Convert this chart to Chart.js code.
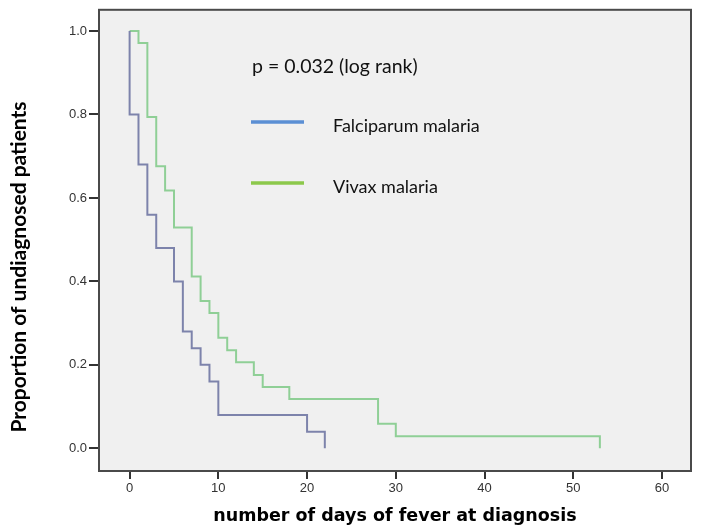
<!DOCTYPE html>
<html>
<head>
<meta charset="utf-8">
<script src="https://cdn.jsdelivr.net/npm/chart.js@4/dist/chart.umd.min.js"></script>
<style>
  html, body { margin: 0; padding: 0; background: #ffffff; }
  #wrap { position: relative; width: 704px; height: 530px; }
</style>
</head>
<body>
<div id="wrap"><canvas id="c" width="704" height="530"></canvas></div>
<script>
// Kaplan-Meier data (days, proportion undiagnosed)
const falciparumDays = [0, 0, 1, 2, 3, 5, 6, 7, 8, 9, 10, 20, 22];
const falciparumProp = [1.0, 0.80, 0.68, 0.56, 0.48, 0.40, 0.28, 0.24, 0.20, 0.16, 0.08, 0.04, 0.0];
const vivaxDays = [0, 1, 2, 3, 4, 5, 7, 8, 9, 10, 11, 12, 14, 15, 18, 28, 30, 53];
const vivaxProp = [1.0, 0.971, 0.794, 0.676, 0.618, 0.529, 0.412, 0.353, 0.324, 0.265, 0.235, 0.206, 0.176, 0.147, 0.118, 0.059, 0.029, 0.0];
const xTicks = [0, 10, 20, 30, 40, 50, 60];
const yTicks = [0.0, 0.2, 0.4, 0.6, 0.8, 1.0];
const seriesNames = ['Falciparum malaria', 'Vivax malaria'];
const annotationText = 'p = 0.032 (log rank)';
const xTitle = 'number of days of fever at diagnosis';
const yTitle = 'Proportion of undiagnosed patients';

const toPoints = (xs, ys) => xs.map((x, i) => ({ x: x, y: ys[i] }));

const decorPlugin = {
  id: 'decor',
  beforeDatasetsDraw(chart) {
    const { ctx, chartArea: a } = chart;
    ctx.save();
    ctx.fillStyle = '#f0f0f0';
    ctx.fillRect(a.left, a.top, a.right - a.left, a.bottom - a.top);
    ctx.restore();
  },
  afterDraw(chart) {
    const { ctx, chartArea: a } = chart;
    ctx.save();
    // frame
    ctx.strokeStyle = '#4a4a4a';
    ctx.lineWidth = 2;
    ctx.strokeRect(a.left, a.top, a.right - a.left, a.bottom - a.top);
    // annotation + legend
    ctx.fillStyle = '#111';
    ctx.textBaseline = 'middle';
    ctx.textAlign = 'left';
    ctx.font = '19.5px Lato, "Open Sans", sans-serif';
    ctx.fillText(annotationText, 252, 67);
    ctx.font = '18px Lato, "Open Sans", sans-serif';
    const legendCols = ['#5b8fd4', '#8cc84b'];
    const legendY = [122, 183];
    for (let i = 0; i < 2; i++) {
      ctx.strokeStyle = legendCols[i];
      ctx.lineWidth = 3.5;
      ctx.beginPath();
      ctx.moveTo(251, legendY[i]);
      ctx.lineTo(304, legendY[i]);
      ctx.stroke();
      ctx.fillText(seriesNames[i], 333, legendY[i] + 4);
    }
    // axis titles
    ctx.fillStyle = '#000';
    ctx.textAlign = 'center';
    ctx.font = 'bold 17.5px "DejaVu Sans", Verdana, sans-serif';
    ctx.fillText(xTitle, 395, 516);
    ctx.translate(19, 267);
    ctx.rotate(-Math.PI / 2);
    ctx.font = 'bold 21px Lato, "Open Sans", sans-serif';
    ctx.fillText(yTitle, 0, 0);
    ctx.restore();
  }
};

new Chart(document.getElementById('c'), {
  type: 'scatter',
  data: {
    datasets: [
      {
        label: seriesNames[0],
        data: toPoints(falciparumDays, falciparumProp),
        showLine: true,
        stepped: 'before',
        borderColor: '#7d83ab',
        borderWidth: 2,
        pointRadius: 0,
        fill: false
      },
      {
        label: seriesNames[1],
        data: toPoints(vivaxDays, vivaxProp),
        showLine: true,
        stepped: 'before',
        borderColor: '#8fcf96',
        borderWidth: 2,
        pointRadius: 0,
        fill: false
      }
    ]
  },
  options: {
    responsive: false,
    animation: false,
    layout: { padding: { left: 0, right: 13, top: 3, bottom: 0 } },
    plugins: { legend: { display: false }, tooltip: { enabled: false } },
    scales: {
      x: {
        type: 'linear',
        min: -3.45,
        max: 63.27,
        afterBuildTicks: s => { s.ticks = xTicks.map(v => ({ value: v })); },
        afterFit: s => { s.height = 59; },
        grid: { drawOnChartArea: false, tickLength: 8, color: '#333', lineWidth: 2 },
        border: { display: false },
        ticks: { padding: 2, color: '#333', font: { family: '"Liberation Sans", Arial, sans-serif', size: 13 }, callback: v => String(v) }
      },
      y: {
        type: 'linear',
        min: -0.0543,
        max: 1.0508,
        afterBuildTicks: s => { s.ticks = yTicks.map(v => ({ value: v })); },
        afterFit: s => { s.width = 99; },
        grid: { drawOnChartArea: false, tickLength: 10, color: '#333', lineWidth: 2 },
        border: { display: false },
        ticks: { padding: 2, color: '#333', font: { family: '"Liberation Sans", Arial, sans-serif', size: 13 }, callback: v => v.toFixed(1) }
      }
    }
  },
  plugins: [decorPlugin]
});
</script>
</body>
</html>
